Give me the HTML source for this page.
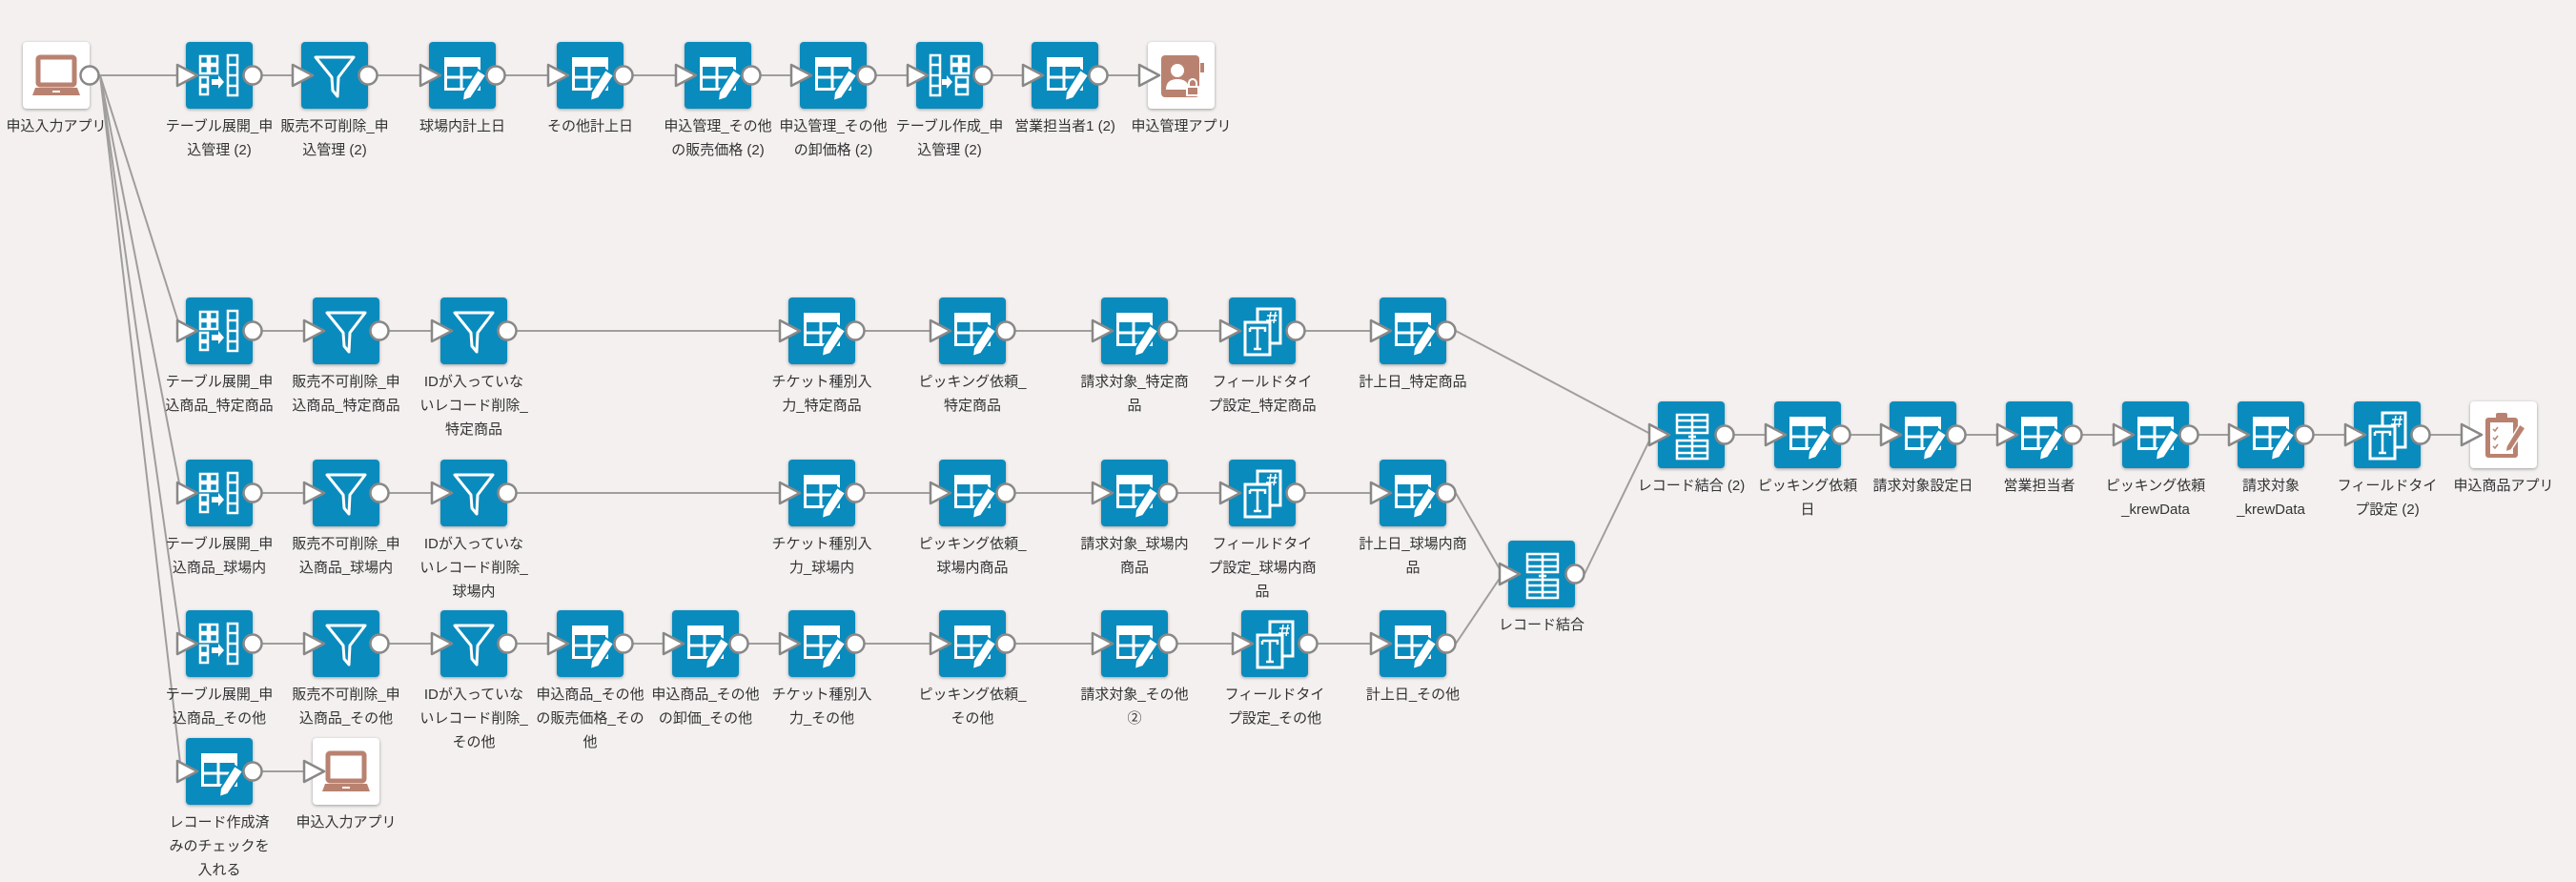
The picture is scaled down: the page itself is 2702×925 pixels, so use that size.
<!DOCTYPE html>
<html><head><meta charset="utf-8"><style>
html,body{margin:0;padding:0}
body{width:2702px;height:925px;background:#f3f0ef;position:relative;overflow:hidden;font-family:"Liberation Sans","Noto Sans CJK JP",sans-serif}
.n{position:absolute;width:70px;height:70px;background:#0a8bbd;border-radius:4px;box-shadow:0 1px 3px rgba(0,0,0,.35);z-index:1}
.n svg{width:70px;height:70px;display:block}
.a{background:#fff}
.l{position:absolute;width:180px;margin-left:-55px;text-align:center;font-size:15px;line-height:25px;color:#333;white-space:nowrap;z-index:1}
svg.layer{position:absolute;left:0;top:0}
</style></head><body>
<svg width="0" height="0" style="position:absolute">
<defs>
<symbol id="edit" viewBox="0 0 70 70"><rect x="17.5" y="17.5" width="35" height="32" fill="none" stroke="#fff" stroke-width="3"/><rect x="16" y="16" width="38" height="10" fill="#fff"/><line x1="34" y1="26" x2="34" y2="50" stroke="#fff" stroke-width="3"/><line x1="17" y1="37" x2="53" y2="37" stroke="#fff" stroke-width="3"/><polygon points="51,29 60,35 44,59 35,62 36,53" fill="#fff" stroke="#0a8bbd" stroke-width="2"/></symbol>
<symbol id="filter" viewBox="0 0 70 70"><polygon points="15,16 55,16 39,37 38,57 33,51 32,37" fill="none" stroke="#fff" stroke-width="3" stroke-linejoin="round"/></symbol>
<symbol id="expand" viewBox="0 0 70 70"><g fill="none" stroke="#fff" stroke-width="2.5"><rect x="15" y="15" width="8" height="8"/><rect x="25" y="15" width="8" height="8"/><rect x="15" y="25" width="8" height="8"/><rect x="25" y="25" width="8" height="8"/><rect x="15" y="37" width="8" height="8"/><rect x="15" y="47" width="8" height="8"/><rect x="44" y="14" width="10" height="42"/><line x1="44" y1="24" x2="54" y2="24"/><line x1="44" y1="35" x2="54" y2="35"/><line x1="44" y1="46" x2="54" y2="46"/></g><polygon points="27,39 34,39 34,35 40,42 34,49 34,45 27,45" fill="#fff"/></symbol>
<symbol id="expand2" viewBox="0 0 70 70"><g fill="none" stroke="#fff" stroke-width="2.5"><rect x="15" y="14" width="10" height="42"/><line x1="15" y1="24" x2="25" y2="24"/><line x1="15" y1="35" x2="25" y2="35"/><line x1="15" y1="46" x2="25" y2="46"/><rect x="37" y="15" width="8" height="8"/><rect x="47" y="15" width="8" height="8"/><rect x="37" y="25" width="8" height="8"/><rect x="47" y="25" width="8" height="8"/><rect x="42" y="37" width="12" height="8"/><rect x="42" y="47" width="12" height="8"/></g><polygon points="27,39 32,39 32,35 38,42 32,49 32,45 27,45" fill="#fff"/></symbol>
<symbol id="tdoc" viewBox="0 0 70 70"><rect x="30" y="12" width="24" height="36" fill="#0a8bbd" stroke="#fff" stroke-width="3"/><path d="M44 15 l-2 12 M49 15 l-2 12 M40 19 h11 M39 24 h11" stroke="#fff" stroke-width="1.5"/><rect x="17" y="26" width="26" height="34" fill="#0a8bbd" stroke="#fff" stroke-width="3"/><path d="M22 32 h16 v4 M22 32 v4 M30 32 v22 M26 54 h8" fill="none" stroke="#fff" stroke-width="2.5"/></symbol>
<symbol id="merge" viewBox="0 0 70 70"><g fill="none" stroke="#fff" stroke-width="2.5"><rect x="20" y="14" width="32" height="19"/><line x1="20" y1="20" x2="52" y2="20"/><line x1="20" y1="27" x2="52" y2="27"/><line x1="36" y1="14" x2="36" y2="33"/><rect x="20" y="41" width="32" height="19"/><line x1="20" y1="47" x2="52" y2="47"/><line x1="20" y1="54" x2="52" y2="54"/><line x1="36" y1="41" x2="36" y2="60"/><line x1="36" y1="34" x2="36" y2="40"/><line x1="32" y1="37" x2="40" y2="37"/></g></symbol>
<symbol id="laptop" viewBox="0 0 70 70"><rect x="16" y="16" width="38" height="29" rx="2" fill="none" stroke="#b98270" stroke-width="5"/><polygon points="13,48 57,48 60,56 10,56" fill="#b98270"/><rect x="31" y="51" width="8" height="2" fill="#fff"/></symbol>
<symbol id="lock" viewBox="0 0 70 70"><rect x="14" y="14" width="40" height="44" rx="4" fill="#b98270"/><rect x="55" y="22" width="4" height="10" fill="#b98270"/><circle cx="31" cy="30" r="7" fill="#fff"/><path d="M19 50 q0 -11 12 -11 q10 0 12 8 v3z" fill="#fff"/><rect x="40" y="46" width="14" height="11" rx="1" fill="#fff"/><path d="M43 46 v-3 a4 4 0 0 1 8 0 v3" fill="none" stroke="#fff" stroke-width="2"/><rect x="42" y="48" width="10" height="7" fill="#b98270"/></symbol>
<symbol id="clip" viewBox="0 0 70 70"><rect x="16" y="17" width="34" height="42" rx="3" fill="#b98270"/><rect x="21" y="22" width="24" height="33" fill="#fff"/><rect x="27" y="12" width="12" height="8" rx="2" fill="#b98270"/><path d="M24 29 l2 2 l3 -4 M24 38 l2 2 l3 -4 M24 47 l2 2 l3 -4" fill="none" stroke="#b98270" stroke-width="1.5"/><polygon points="52,24 58,28 43,51 37,53 38,47" fill="#b98270" stroke="#fff" stroke-width="1.5"/></symbol>
</defs></svg>

<!-- edges -->
<svg class="layer" width="2702" height="925" style="z-index:0" stroke="#a09e9d" stroke-width="2" fill="none">
<line x1="95" y1="79" x2="1204" y2="79"/>
<line x1="230" y1="347" x2="1480" y2="347"/>
<line x1="230" y1="517" x2="1480" y2="517"/>
<line x1="230" y1="675" x2="1480" y2="675"/>
<line x1="230" y1="809" x2="330" y2="809"/>
<line x1="1774" y1="456" x2="2591" y2="456"/>
<line x1="105" y1="79" x2="190" y2="347"/>
<line x1="105" y1="79" x2="190" y2="517"/>
<line x1="105" y1="79" x2="190" y2="675"/>
<line x1="105" y1="79" x2="190" y2="809"/>
<line x1="1527" y1="347" x2="1733" y2="456"/>
<line x1="1527" y1="517" x2="1576" y2="602"/>
<line x1="1527" y1="675" x2="1576" y2="602"/>
<line x1="1662" y1="602" x2="1733" y2="456"/>
</svg>

<!-- Row 1 -->
<div class="n a" style="left:24px;top:44px"><svg><use href="#laptop"/></svg></div>
<div class="l" style="left:24px;top:120px">申込入力アプリ</div>
<div class="n" style="left:195px;top:44px"><svg><use href="#expand"/></svg></div>
<div class="l" style="left:195px;top:120px">テーブル展開_申<br>込管理 (2)</div>
<div class="n" style="left:316px;top:44px"><svg><use href="#filter"/></svg></div>
<div class="l" style="left:316px;top:120px">販売不可削除_申<br>込管理 (2)</div>
<div class="n" style="left:450px;top:44px"><svg><use href="#edit"/></svg></div>
<div class="l" style="left:450px;top:120px">球場内計上日</div>
<div class="n" style="left:584px;top:44px"><svg><use href="#edit"/></svg></div>
<div class="l" style="left:584px;top:120px">その他計上日</div>
<div class="n" style="left:718px;top:44px"><svg><use href="#edit"/></svg></div>
<div class="l" style="left:718px;top:120px">申込管理_その他<br>の販売価格 (2)</div>
<div class="n" style="left:839px;top:44px"><svg><use href="#edit"/></svg></div>
<div class="l" style="left:839px;top:120px">申込管理_その他<br>の卸価格 (2)</div>
<div class="n" style="left:961px;top:44px"><svg><use href="#expand2"/></svg></div>
<div class="l" style="left:961px;top:120px">テーブル作成_申<br>込管理 (2)</div>
<div class="n" style="left:1082px;top:44px"><svg><use href="#edit"/></svg></div>
<div class="l" style="left:1082px;top:120px">営業担当者1 (2)</div>
<div class="n a" style="left:1204px;top:44px"><svg><use href="#lock"/></svg></div>
<div class="l" style="left:1204px;top:120px">申込管理アプリ</div>

<!-- Row 2 -->
<div class="n" style="left:195px;top:312px"><svg><use href="#expand"/></svg></div>
<div class="l" style="left:195px;top:388px">テーブル展開_申<br>込商品_特定商品</div>
<div class="n" style="left:328px;top:312px"><svg><use href="#filter"/></svg></div>
<div class="l" style="left:328px;top:388px">販売不可削除_申<br>込商品_特定商品</div>
<div class="n" style="left:462px;top:312px"><svg><use href="#filter"/></svg></div>
<div class="l" style="left:462px;top:388px">IDが入っていな<br>いレコード削除_<br>特定商品</div>
<div class="n" style="left:827px;top:312px"><svg><use href="#edit"/></svg></div>
<div class="l" style="left:827px;top:388px">チケット種別入<br>力_特定商品</div>
<div class="n" style="left:985px;top:312px"><svg><use href="#edit"/></svg></div>
<div class="l" style="left:985px;top:388px">ピッキング依頼_<br>特定商品</div>
<div class="n" style="left:1155px;top:312px"><svg><use href="#edit"/></svg></div>
<div class="l" style="left:1155px;top:388px">請求対象_特定商<br>品</div>
<div class="n" style="left:1289px;top:312px"><svg><use href="#tdoc"/></svg></div>
<div class="l" style="left:1289px;top:388px">フィールドタイ<br>プ設定_特定商品</div>
<div class="n" style="left:1447px;top:312px"><svg><use href="#edit"/></svg></div>
<div class="l" style="left:1447px;top:388px">計上日_特定商品</div>

<!-- Row 3 -->
<div class="n" style="left:195px;top:482px"><svg><use href="#expand"/></svg></div>
<div class="l" style="left:195px;top:558px">テーブル展開_申<br>込商品_球場内</div>
<div class="n" style="left:328px;top:482px"><svg><use href="#filter"/></svg></div>
<div class="l" style="left:328px;top:558px">販売不可削除_申<br>込商品_球場内</div>
<div class="n" style="left:462px;top:482px"><svg><use href="#filter"/></svg></div>
<div class="l" style="left:462px;top:558px">IDが入っていな<br>いレコード削除_<br>球場内</div>
<div class="n" style="left:827px;top:482px"><svg><use href="#edit"/></svg></div>
<div class="l" style="left:827px;top:558px">チケット種別入<br>力_球場内</div>
<div class="n" style="left:985px;top:482px"><svg><use href="#edit"/></svg></div>
<div class="l" style="left:985px;top:558px">ピッキング依頼_<br>球場内商品</div>
<div class="n" style="left:1155px;top:482px"><svg><use href="#edit"/></svg></div>
<div class="l" style="left:1155px;top:558px">請求対象_球場内<br>商品</div>
<div class="n" style="left:1289px;top:482px"><svg><use href="#tdoc"/></svg></div>
<div class="l" style="left:1289px;top:558px">フィールドタイ<br>プ設定_球場内商<br>品</div>
<div class="n" style="left:1447px;top:482px"><svg><use href="#edit"/></svg></div>
<div class="l" style="left:1447px;top:558px">計上日_球場内商<br>品</div>

<!-- Row 4 -->
<div class="n" style="left:195px;top:640px"><svg><use href="#expand"/></svg></div>
<div class="l" style="left:195px;top:716px">テーブル展開_申<br>込商品_その他</div>
<div class="n" style="left:328px;top:640px"><svg><use href="#filter"/></svg></div>
<div class="l" style="left:328px;top:716px">販売不可削除_申<br>込商品_その他</div>
<div class="n" style="left:462px;top:640px"><svg><use href="#filter"/></svg></div>
<div class="l" style="left:462px;top:716px">IDが入っていな<br>いレコード削除_<br>その他</div>
<div class="n" style="left:584px;top:640px"><svg><use href="#edit"/></svg></div>
<div class="l" style="left:584px;top:716px">申込商品_その他<br>の販売価格_その<br>他</div>
<div class="n" style="left:705px;top:640px"><svg><use href="#edit"/></svg></div>
<div class="l" style="left:705px;top:716px">申込商品_その他<br>の卸価_その他</div>
<div class="n" style="left:827px;top:640px"><svg><use href="#edit"/></svg></div>
<div class="l" style="left:827px;top:716px">チケット種別入<br>力_その他</div>
<div class="n" style="left:985px;top:640px"><svg><use href="#edit"/></svg></div>
<div class="l" style="left:985px;top:716px">ピッキング依頼_<br>その他</div>
<div class="n" style="left:1155px;top:640px"><svg><use href="#edit"/></svg></div>
<div class="l" style="left:1155px;top:716px">請求対象_その他<br>②</div>
<div class="n" style="left:1302px;top:640px"><svg><use href="#tdoc"/></svg></div>
<div class="l" style="left:1302px;top:716px">フィールドタイ<br>プ設定_その他</div>
<div class="n" style="left:1447px;top:640px"><svg><use href="#edit"/></svg></div>
<div class="l" style="left:1447px;top:716px">計上日_その他</div>

<!-- Row 5 -->
<div class="n" style="left:195px;top:774px"><svg><use href="#edit"/></svg></div>
<div class="l" style="left:195px;top:850px">レコード作成済<br>みのチェックを<br>入れる</div>
<div class="n a" style="left:328px;top:774px"><svg><use href="#laptop"/></svg></div>
<div class="l" style="left:328px;top:850px">申込入力アプリ</div>

<!-- Merge -->
<div class="n" style="left:1582px;top:567px"><svg><use href="#merge"/></svg></div>
<div class="l" style="left:1582px;top:643px">レコード結合</div>

<!-- Right row -->
<div class="n" style="left:1739px;top:421px"><svg><use href="#merge"/></svg></div>
<div class="l" style="left:1739px;top:497px">レコード結合 (2)</div>
<div class="n" style="left:1861px;top:421px"><svg><use href="#edit"/></svg></div>
<div class="l" style="left:1861px;top:497px">ピッキング依頼<br>日</div>
<div class="n" style="left:1982px;top:421px"><svg><use href="#edit"/></svg></div>
<div class="l" style="left:1982px;top:497px">請求対象設定日</div>
<div class="n" style="left:2104px;top:421px"><svg><use href="#edit"/></svg></div>
<div class="l" style="left:2104px;top:497px">営業担当者</div>
<div class="n" style="left:2226px;top:421px"><svg><use href="#edit"/></svg></div>
<div class="l" style="left:2226px;top:497px">ピッキング依頼<br>_krewData</div>
<div class="n" style="left:2347px;top:421px"><svg><use href="#edit"/></svg></div>
<div class="l" style="left:2347px;top:497px">請求対象<br>_krewData</div>
<div class="n" style="left:2469px;top:421px"><svg><use href="#tdoc"/></svg></div>
<div class="l" style="left:2469px;top:497px">フィールドタイ<br>プ設定 (2)</div>
<div class="n a" style="left:2591px;top:421px"><svg><use href="#clip"/></svg></div>
<div class="l" style="left:2591px;top:497px">申込商品アプリ</div>

<!-- ports -->
<svg class="layer" width="2702" height="925" style="z-index:2">
<defs>
<polygon id="t" points="-9,-11 12,0 -9,11" fill="#fff" stroke="#8a8887" stroke-width="2.5" stroke-linejoin="round"/>
<circle id="c" r="9.5" fill="#fff" stroke="#8a8887" stroke-width="2.5"/>
</defs>
<g>
<use href="#c" x="94" y="79"/>
<use href="#t" x="195" y="79"/><use href="#c" x="265" y="79"/>
<use href="#t" x="316" y="79"/><use href="#c" x="386" y="79"/>
<use href="#t" x="450" y="79"/><use href="#c" x="520" y="79"/>
<use href="#t" x="584" y="79"/><use href="#c" x="654" y="79"/>
<use href="#t" x="718" y="79"/><use href="#c" x="788" y="79"/>
<use href="#t" x="839" y="79"/><use href="#c" x="909" y="79"/>
<use href="#t" x="961" y="79"/><use href="#c" x="1031" y="79"/>
<use href="#t" x="1082" y="79"/><use href="#c" x="1152" y="79"/>
<use href="#t" x="1204" y="79"/>
</g>
<g>
<use href="#t" x="195" y="347"/><use href="#c" x="265" y="347"/>
<use href="#t" x="328" y="347"/><use href="#c" x="398" y="347"/>
<use href="#t" x="462" y="347"/><use href="#c" x="532" y="347"/>
<use href="#t" x="827" y="347"/><use href="#c" x="897" y="347"/>
<use href="#t" x="985" y="347"/><use href="#c" x="1055" y="347"/>
<use href="#t" x="1155" y="347"/><use href="#c" x="1225" y="347"/>
<use href="#t" x="1289" y="347"/><use href="#c" x="1359" y="347"/>
<use href="#t" x="1447" y="347"/><use href="#c" x="1517" y="347"/>
</g>
<g>
<use href="#t" x="195" y="517"/><use href="#c" x="265" y="517"/>
<use href="#t" x="328" y="517"/><use href="#c" x="398" y="517"/>
<use href="#t" x="462" y="517"/><use href="#c" x="532" y="517"/>
<use href="#t" x="827" y="517"/><use href="#c" x="897" y="517"/>
<use href="#t" x="985" y="517"/><use href="#c" x="1055" y="517"/>
<use href="#t" x="1155" y="517"/><use href="#c" x="1225" y="517"/>
<use href="#t" x="1289" y="517"/><use href="#c" x="1359" y="517"/>
<use href="#t" x="1447" y="517"/><use href="#c" x="1517" y="517"/>
</g>
<g>
<use href="#t" x="195" y="675"/><use href="#c" x="265" y="675"/>
<use href="#t" x="328" y="675"/><use href="#c" x="398" y="675"/>
<use href="#t" x="462" y="675"/><use href="#c" x="532" y="675"/>
<use href="#t" x="584" y="675"/><use href="#c" x="654" y="675"/>
<use href="#t" x="705" y="675"/><use href="#c" x="775" y="675"/>
<use href="#t" x="827" y="675"/><use href="#c" x="897" y="675"/>
<use href="#t" x="985" y="675"/><use href="#c" x="1055" y="675"/>
<use href="#t" x="1155" y="675"/><use href="#c" x="1225" y="675"/>
<use href="#t" x="1302" y="675"/><use href="#c" x="1372" y="675"/>
<use href="#t" x="1447" y="675"/><use href="#c" x="1517" y="675"/>
</g>
<g>
<use href="#t" x="195" y="809"/><use href="#c" x="265" y="809"/>
<use href="#t" x="328" y="809"/>
<use href="#t" x="1582" y="602"/><use href="#c" x="1652" y="602"/>
</g>
<g>
<use href="#t" x="1739" y="456"/><use href="#c" x="1809" y="456"/>
<use href="#t" x="1861" y="456"/><use href="#c" x="1931" y="456"/>
<use href="#t" x="1982" y="456"/><use href="#c" x="2052" y="456"/>
<use href="#t" x="2104" y="456"/><use href="#c" x="2174" y="456"/>
<use href="#t" x="2226" y="456"/><use href="#c" x="2296" y="456"/>
<use href="#t" x="2347" y="456"/><use href="#c" x="2417" y="456"/>
<use href="#t" x="2469" y="456"/><use href="#c" x="2539" y="456"/>
<use href="#t" x="2591" y="456"/>
</g>
</svg>
</body></html>
